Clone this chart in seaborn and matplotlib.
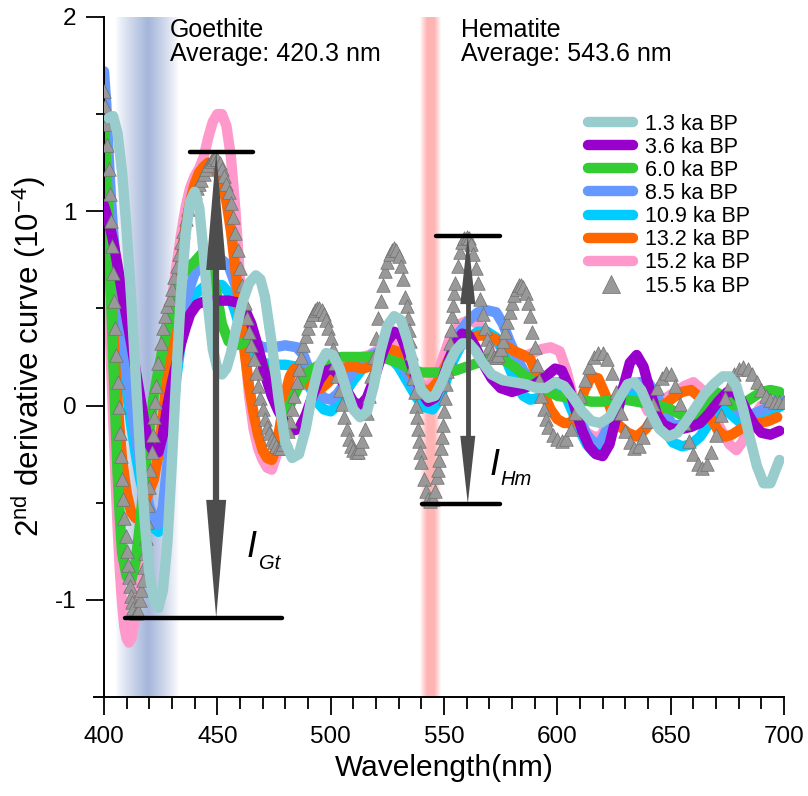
import numpy as np
import pandas as pd
import matplotlib
matplotlib.use("Agg")
import matplotlib.pyplot as plt
import seaborn as sns
from matplotlib.lines import Line2D
from matplotlib.patches import Polygon
from matplotlib.ticker import MultipleLocator, FixedLocator

sns.set_style("ticks")
plt.rcParams["font.family"] = ["Liberation Sans", "DejaVu Sans"]
plt.rcParams["mathtext.fontset"] = "custom"
plt.rcParams["mathtext.rm"] = "Liberation Sans"
plt.rcParams["mathtext.it"] = "Liberation Sans:italic"
for key in ("text.color", "axes.labelcolor", "xtick.color", "ytick.color",
            "xtick.labelcolor", "ytick.labelcolor", "axes.edgecolor"):
    plt.rcParams[key] = "black"

# ---- second-derivative spectra, (wavelength nm, value x1e-4) ----
s_1_3 = [(402,1.48),(404,1.49),(406,1.40),(408,1.20),(410,0.90),(412,0.55),(414,0.15),(416,-0.25),
         (418,-0.60),(420,-0.86),(422,-1.00),(424,-1.04),(426,-0.95),(428,-0.70),(430,-0.28),(432,0.18),
         (434,0.58),(436,0.88),(438,1.05),(440,1.10),(442,1.02),(444,0.78),(446,0.50),(448,0.29),
         (450,0.19),(452,0.16),(454,0.19),(456,0.27),(458,0.38),(461,0.53),(464,0.63),(467,0.67),
         (469,0.65),(471,0.56),(474,0.32),(477,0.04),(480,-0.19),(483,-0.27),(486,-0.25),(489,-0.12),
         (492,0.07),(495,0.21),(498,0.27),(501,0.26),(504,0.19),(507,0.08),(510,-0.02),(513,-0.06),
         (516,-0.03),(519,0.10),(522,0.28),(525,0.41),(528,0.46),(531,0.44),(534,0.33),(537,0.19),
         (540,0.08),(543,0.04),(546,0.05),(549,0.12),(552,0.21),(555,0.28),(558,0.32),(561,0.32),
         (564,0.28),(567,0.22),(571,0.16),(576,0.13),(581,0.12),(586,0.11),(591,0.09),(595,0.09),
         (599,0.12),(603,0.10),(607,0.04),(611,-0.03),(615,-0.08),(619,-0.09),(623,-0.06),(627,0.03),
         (631,0.11),(634,0.12),(637,0.08),(641,-0.03),(645,-0.12),(649,-0.16),(653,-0.14),(657,-0.08),
         (661,-0.01),(665,0.06),(669,0.11),(673,0.15),(676,0.15),(679,0.10),(682,-0.02),(685,-0.17),
         (688,-0.31),(691,-0.40),(694,-0.40),(696,-0.34),(698,-0.28)]

s_3_6 = [(400,1.03),(402,0.95),(404,0.85),(406,0.72),(408,0.58),(410,0.45),(412,0.32),(414,0.18),
         (416,0.04),(418,-0.10),(420,-0.20),(422,-0.24),(424,-0.24),(426,-0.15),(428,0.00),(430,0.12),
         (432,0.22),(434,0.32),(436,0.40),(438,0.47),(441,0.52),(445,0.54),(450,0.54),(455,0.54),
         (459,0.53),(462,0.50),(465,0.42),(468,0.30),(471,0.16),(474,0.05),(477,-0.03),(480,-0.09),
         (483,-0.13),(486,-0.12),(489,-0.05),(492,0.05),(495,0.13),(498,0.18),(501,0.19),(504,0.15),
         (507,0.08),(510,0.02),(513,0.00),(516,0.04),(519,0.13),(522,0.24),(525,0.33),(528,0.38),
         (531,0.36),(534,0.27),(537,0.16),(540,0.07),(543,0.02),(546,0.04),(549,0.12),(552,0.23),
         (555,0.32),(558,0.37),(561,0.36),(564,0.30),(567,0.22),(571,0.14),(575,0.09),(580,0.07),
         (585,0.09),(590,0.11),(595,0.15),(599,0.19),(602,0.18),(605,0.10),(608,-0.02),(611,-0.13),
         (614,-0.21),(617,-0.25),(620,-0.26),(623,-0.20),(626,-0.06),(629,0.09),(632,0.22),(635,0.26),
         (638,0.20),(641,0.07),(644,-0.05),(647,-0.10),(651,-0.12),(655,-0.12),(659,-0.11),(663,-0.09),
         (667,-0.04),(671,0.02),(675,0.07),(678,0.07),(681,0.03),(684,-0.04),(687,-0.10),(690,-0.14),
         (694,-0.15),(698,-0.13)]

s_6_0 = [(400,1.45),(401,1.25),(402,0.95),(403,0.60),(404,0.25),(405,-0.05),(406,-0.35),(407,-0.58),
         (408,-0.76),(410,-0.88),(412,-0.90),(414,-0.80),(416,-0.60),(418,-0.35),(420,-0.12),(422,0.05),
         (424,0.18),(426,0.30),(428,0.40),(431,0.55),(434,0.66),(437,0.71),(440,0.74),(443,0.78),
         (446,0.77),(449,0.62),(452,0.42),(455,0.33),(458,0.31),(461,0.32),(464,0.33),(467,0.30),
         (470,0.22),(473,0.10),(476,0.00),(479,-0.05),(482,0.00),(485,0.08),(488,0.14),(491,0.18),
         (495,0.21),(500,0.24),(505,0.25),(510,0.25),(515,0.25),(520,0.25),(525,0.24),(530,0.22),
         (535,0.19),(540,0.17),(545,0.17),(550,0.17),(555,0.18),(560,0.20),(565,0.22),(570,0.25),
         (573,0.25),(577,0.23),(581,0.20),(585,0.16),(590,0.12),(595,0.08),(600,0.05),(605,0.04),
         (610,0.03),(615,0.02),(620,0.02),(625,0.03),(630,0.03),(635,0.02),(640,0.01),(645,0.00),
         (650,-0.02),(655,-0.05),(659,-0.06),(663,-0.03),(667,0.04),(670,0.07),(674,0.04),(678,0.00),
         (682,0.01),(686,0.04),(690,0.07),(694,0.08),(698,0.07)]

s_8_5 = [(400,1.72),(401,1.55),(402,1.30),(403,1.08),(404,0.90),(406,0.62),(408,0.38),(410,0.18),
         (412,0.00),(414,-0.16),(416,-0.30),(418,-0.42),(420,-0.52),(422,-0.58),(424,-0.61),(426,-0.52),
         (428,-0.30),(430,-0.02),(432,0.22),(434,0.42),(437,0.58),(440,0.68),(444,0.73),(448,0.74),
         (452,0.75),(455,0.72),(458,0.62),(461,0.48),(464,0.38),(467,0.32),(470,0.30),(475,0.30),
         (480,0.31),(485,0.30),(488,0.26),(491,0.17),(494,0.08),(497,0.04),(500,0.03),(503,0.06),
         (506,0.11),(510,0.18),(514,0.23),(518,0.26),(522,0.28),(526,0.28),(530,0.24),(534,0.16),
         (538,0.08),(542,0.04),(545,0.03),(548,0.08),(551,0.18),(554,0.30),(557,0.38),(561,0.44),
         (565,0.48),(569,0.49),(573,0.48),(576,0.42),(579,0.33),(582,0.25),(585,0.18),(588,0.14),
         (592,0.12),(596,0.12),(600,0.12),(604,0.10),(607,0.02),(610,-0.08),(613,-0.15),(616,-0.19),
         (619,-0.19),(622,-0.12),(625,0.00),(628,0.07),(632,0.10),(636,0.12),(640,0.12),(644,0.05),
         (648,-0.05),(651,-0.10),(655,-0.10),(659,-0.09),(663,-0.07),(667,-0.02),(671,0.04),(674,0.05),
         (677,0.02),(681,-0.04),(685,-0.05),(689,-0.03),(693,-0.01),(696,0.02),(699,0.05)]

s_10_9 = [(400,1.50),(401,1.35),(402,1.12),(403,0.92),(404,0.76),(406,0.50),(408,0.28),(410,0.08),
          (412,-0.10),(414,-0.25),(416,-0.38),(418,-0.48),(420,-0.57),(422,-0.63),(424,-0.65),(426,-0.57),
          (428,-0.36),(430,-0.08),(432,0.15),(434,0.33),(437,0.48),(440,0.57),(444,0.61),(448,0.62),
          (452,0.62),(455,0.58),(458,0.48),(461,0.36),(464,0.28),(467,0.24),(470,0.22),(475,0.21),
          (480,0.21),(485,0.20),(488,0.16),(491,0.09),(494,0.02),(497,-0.02),(500,-0.03),(503,0.00),
          (506,0.06),(510,0.13),(514,0.19),(518,0.23),(522,0.25),(526,0.25),(530,0.20),(534,0.12),
          (538,0.04),(542,-0.01),(545,-0.02),(548,0.03),(551,0.13),(554,0.23),(557,0.30),(561,0.35),
          (565,0.38),(569,0.38),(573,0.35),(576,0.28),(579,0.19),(582,0.11),(585,0.05),(588,0.03),
          (592,0.04),(596,0.06),(600,0.07),(604,0.04),(607,-0.04),(610,-0.13),(613,-0.20),(616,-0.24),
          (619,-0.24),(622,-0.17),(625,-0.06),(628,0.02),(632,0.06),(636,0.07),(640,0.05),(644,-0.04),
          (648,-0.14),(651,-0.19),(655,-0.21),(659,-0.20),(663,-0.16),(667,-0.09),(671,-0.03),(674,-0.02),
          (677,-0.05),(681,-0.09),(685,-0.10),(689,-0.08),(693,-0.05),(696,-0.02),(699,0.00)]

s_13_2 = [(400,1.20),(401,1.00),(402,0.80),(403,0.60),(404,0.40),(405,0.20),(406,0.02),(407,-0.14),
          (408,-0.28),(410,-0.45),(412,-0.55),(414,-0.58),(416,-0.56),(418,-0.50),(420,-0.44),(422,-0.38),
          (424,-0.25),(426,-0.06),(428,0.16),(430,0.38),(432,0.58),(434,0.76),(436,0.92),(438,1.05),
          (440,1.14),(442,1.20),(444,1.23),(446,1.25),(448,1.24),(450,1.20),(452,1.14),(454,1.05),
          (456,0.90),(458,0.70),(460,0.48),(462,0.28),(464,0.10),(466,-0.04),(468,-0.15),(470,-0.23),
          (472,-0.27),(474,-0.28),(476,-0.22),(478,-0.08),(480,0.06),(482,0.15),(484,0.19),(487,0.17),
          (490,0.11),(493,0.08),(496,0.09),(499,0.12),(502,0.16),(505,0.19),(508,0.20),(511,0.20),
          (514,0.19),(517,0.20),(520,0.23),(523,0.27),(526,0.29),(529,0.28),(532,0.24),(535,0.18),
          (538,0.12),(541,0.08),(544,0.08),(547,0.12),(550,0.19),(553,0.26),(557,0.32),(561,0.35),
          (565,0.36),(569,0.36),(573,0.34),(577,0.31),(581,0.28),(585,0.26),(588,0.24),(591,0.16),
          (594,0.06),(597,-0.02),(600,-0.07),(603,-0.09),(606,-0.09),(609,-0.03),(612,0.08),(615,0.15),
          (618,0.14),(621,0.06),(624,-0.03),(627,-0.10),(631,-0.14),(635,-0.16),(639,-0.12),(643,-0.05),
          (647,0.00),(651,0.04),(655,0.07),(659,0.08),(663,0.04),(667,-0.05),(671,-0.13),(674,-0.16),
          (677,-0.15),(681,-0.12),(685,-0.10),(689,-0.09),(693,-0.08),(697,-0.06)]

s_15_2 = [(400,1.10),(401,0.85),(402,0.55),(403,0.25),(404,-0.05),(405,-0.35),(406,-0.62),(407,-0.85),
          (408,-1.02),(409,-1.14),(410,-1.20),(411,-1.22),(412,-1.20),(413,-1.14),(414,-1.05),(416,-0.85),
          (418,-0.62),(420,-0.42),(422,-0.22),(424,-0.02),(426,0.18),(428,0.38),(430,0.55),(432,0.72),
          (434,0.88),(436,1.02),(438,1.12),(440,1.18),(442,1.22),(444,1.28),(446,1.38),(448,1.46),
          (450,1.50),(452,1.50),(454,1.44),(456,1.28),(458,1.00),(460,0.65),(462,0.32),(464,0.05),
          (466,-0.12),(468,-0.22),(470,-0.28),(472,-0.32),(474,-0.33),(476,-0.26),(478,-0.12),(480,0.00),
          (482,0.08),(484,0.12),(487,0.12),(490,0.10),(493,0.10),(496,0.13),(499,0.17),(502,0.20),
          (505,0.22),(508,0.23),(511,0.24),(514,0.25),(517,0.26),(520,0.28),(523,0.31),(526,0.33),
          (529,0.32),(532,0.27),(535,0.20),(538,0.14),(541,0.10),(544,0.10),(547,0.16),(550,0.26),
          (553,0.36),(557,0.42),(561,0.44),(565,0.42),(569,0.37),(573,0.32),(577,0.28),(581,0.25),
          (585,0.25),(589,0.27),(593,0.29),(597,0.30),(601,0.28),(604,0.18),(607,0.04),(610,-0.08),
          (613,-0.14),(616,-0.16),(619,-0.16),(622,-0.10),(625,0.00),(628,0.08),(632,0.10),(636,0.06),
          (640,-0.03),(644,-0.02),(648,0.04),(652,0.07),(656,0.10),(660,0.12),(664,0.08),(668,-0.02),
          (672,-0.12),(676,-0.20),(679,-0.23),(682,-0.18),(686,-0.07),(690,0.00),(694,0.02),(698,0.02)]

s_15_5 = [(400,1.62),(400.5,1.54),(401,1.45),(401.5,1.34),(402,1.22),(402.5,1.09),(403,0.95),(403.5,0.82),
          (404,0.68),(404.5,0.54),(405,0.40),(405.5,0.26),(406,0.12),(406.5,-0.01),(407,-0.14),(407.5,-0.26),
          (408,-0.38),(408.5,-0.48),(409,-0.58),(409.5,-0.67),(410,-0.75),(410.5,-0.82),(411,-0.88),
          (411.5,-0.93),(412,-0.98),(412.5,-1.01),(413,-1.04),(414,-1.07),(415,-1.06),(416,-1.00),
          (416.5,-0.95),(417,-0.90),(417.5,-0.83),(418,-0.76),(418.5,-0.68),(419,-0.60),(419.5,-0.51),
          (420,-0.42),(420.5,-0.33),(421,-0.24),(421.5,-0.15),(422,-0.06),(422.5,0.02),(423,0.10),
          (424,0.22),(425,0.32),(426,0.40),(427,0.46),(428,0.51),(429,0.55),(430,0.60),(431,0.66),
          (432,0.72),(433,0.78),(434,0.84),(435,0.90),(436,0.96),(437,1.01),(438,1.05),(439,1.08),
          (440,1.10),(441,1.12),(442,1.14),(443,1.16),(444,1.19),(445,1.22),(446,1.24),(447,1.26),
          (448,1.27),(449,1.28),(450,1.27),(451,1.25),(452,1.22),(453,1.18),(454,1.14),(455,1.10),
          (456,1.04),(457,0.97),(458,0.89),(459,0.80),(460,0.71),(461,0.62),(462,0.53),(463,0.45),
          (464,0.38),(465,0.31),(466,0.24),(467,0.17),(468,0.10),(469,0.04),(470,-0.02),(471,-0.07),
          (472,-0.11),(473,-0.14),(474,-0.17),(475,-0.19),(476,-0.21),(477,-0.22),(478,-0.22),
          (479,-0.20),(480,-0.17),(481,-0.13),(482,-0.08),(483,-0.02),(484,0.05),(485,0.12),(486,0.19),
          (487,0.25),(488,0.31),(489,0.36),(490,0.40),(491,0.44),(492,0.47),(493,0.49),(494,0.50),
          (495,0.50),(496,0.49),(497,0.47),(498,0.44),(499,0.40),(500,0.35),(501,0.29),(502,0.22),
          (503,0.15),(504,0.08),(505,0.01),(506,-0.06),(507,-0.12),(508,-0.17),(509,-0.21),(510,-0.23),
          (511,-0.24),(512,-0.24),(513,-0.22),(514,-0.18),(515,-0.12),(516,-0.04),(517,0.05),(518,0.15),
          (519,0.25),(520,0.35),(521,0.45),(522,0.54),(523,0.62),(524,0.69),(525,0.74),(526,0.78),
          (527,0.80),(528,0.81),(529,0.80),(530,0.77),(531,0.72),(532,0.65),(533,0.56),(533.5,0.51),
          (534,0.45),(534.5,0.39),(535,0.33),(535.5,0.27),(536,0.20),(536.5,0.14),(537,0.07),
          (537.5,0.00),(538,-0.06),(538.5,-0.12),(539,-0.18),(539.5,-0.24),(540,-0.29),(541,-0.38),
          (542,-0.44),(543,-0.48),(544,-0.49),(545,-0.48),(546,-0.44),(547,-0.37),(547.5,-0.33),
          (548,-0.28),(548.5,-0.22),(549,-0.16),(549.5,-0.10),(550,-0.03),(550.5,0.04),(551,0.11),
          (551.5,0.18),(552,0.25),(552.5,0.32),(553,0.39),(553.5,0.46),(554,0.52),(554.5,0.58),
          (555,0.63),(556,0.72),(557,0.79),(558,0.84),(559,0.86),(560,0.87),(561,0.86),(562,0.83),
          (563,0.78),(564,0.71),(565,0.63),(566,0.55),(567,0.47),(568,0.40),(569,0.34),(570,0.30),
          (571,0.27),(572,0.25),(573,0.25),(574,0.26),(575,0.29),(576,0.33),(577,0.38),(578,0.43),
          (579,0.48),(580,0.53),(581,0.57),(582,0.60),(583,0.62),(584,0.62),(585,0.61),(586,0.58),
          (587,0.53),(588,0.46),(589,0.38),(590,0.30),(591,0.21),(592,0.13),(593,0.05),(594,-0.02),
          (595,-0.07),(596,-0.11),(598,-0.15),(600,-0.17),(602,-0.18),(604,-0.17),(606,-0.12),
          (608,-0.04),(610,0.05),(612,0.13),(614,0.20),(616,0.25),(618,0.27),(620,0.27),(622,0.24),
          (624,0.17),(626,0.07),(628,-0.04),(630,-0.13),(632,-0.19),(634,-0.22),(636,-0.21),(638,-0.16),
          (640,-0.08),(642,0.01),(644,0.09),(646,0.14),(648,0.17),(650,0.16),(652,0.10),(654,0.01),
          (656,-0.09),(658,-0.18),(660,-0.25),(662,-0.30),(664,-0.32),(666,-0.30),(668,-0.24),
          (670,-0.15),(672,-0.05),(674,0.04),(676,0.11),(678,0.16),(680,0.19),(682,0.20),(684,0.19),
          (686,0.16),(688,0.12),(690,0.08),(692,0.05),(694,0.03),(696,0.02),(698,0.02),(700,0.02)]

labels = ["1.3 ka BP", "3.6 ka BP", "6.0 ka BP", "8.5 ka BP",
          "10.9 ka BP", "13.2 ka BP", "15.2 ka BP", "15.5 ka BP"]
line_series = [s_1_3, s_3_6, s_6_0, s_8_5, s_10_9, s_13_2, s_15_2]
line_colors = ["#99cccc", "#9900cc", "#33cc33", "#6699ff", "#00ccff", "#ff6600", "#ff99cc"]
line_z = [2.8, 2.6, 2.5, 2.3, 2.2, 2.4, 2.1]
tri_face, tri_edge = "#999999", "#6f6f6f"

# mineral band centres and intensity markers
goethite_avg, hematite_avg = 420.3, 543.6
gt_top, gt_bot = 1.305, -1.093
hm_top, hm_bot = 0.872, -0.506

# ---- figure ----
fig = plt.figure(figsize=(8.08, 7.96), dpi=100)
ax = fig.add_axes([0.1287, 0.1244, 0.8416, 0.8543])
XMIN, XMAX, YMIN, YMAX = 400, 700, -1.5, 2.0
nm_per_px = (XMAX - XMIN) / (0.8416 * 808)
val_per_px = (YMAX - YMIN) / (0.8543 * 796)


def gradient_band(lo, centre, hi, rgb, power, plateau=0.0):
    xs = np.linspace(lo, hi, 400)
    half = np.where(xs < centre, centre - lo, hi - centre)
    d = np.abs(xs - centre)
    prof = np.clip((half - d) / (half * (1 - plateau)), 0, 1) ** power
    col = np.array(rgb) / 255.0
    img = prof[None, :, None] * col[None, None, :] + (1 - prof[None, :, None])
    ax.imshow(img, extent=[lo, hi, YMIN, YMAX], aspect="auto", zorder=0.5,
              interpolation="bilinear", origin="lower")


gradient_band(405.0, goethite_avg - 0.8, 433.0, (165, 182, 218), 0.85)
gradient_band(539.3, hematite_avg + 0.5, 548.5, (255, 180, 180), 0.9, plateau=0.35)

frames = []
for lab, ser in zip(labels[:-1], line_series):
    frames.append(pd.DataFrame(ser, columns=["wl", "d2"]).assign(sample=lab))
df = pd.concat(frames, ignore_index=True)
tri = pd.DataFrame(s_15_5, columns=["wl", "d2"])

for lab, col, z in zip(labels[:-1], line_colors, line_z):
    sub = df[df["sample"] == lab]
    sns.lineplot(data=sub, x="wl", y="d2", ax=ax, color=col, linewidth=7.5,
                 sort=False, estimator=None, legend=False, zorder=z,
                 solid_capstyle="round", solid_joinstyle="round")

sns.scatterplot(data=tri, x="wl", y="d2", ax=ax, marker="^", s=95,
                color=tri_face, edgecolor=tri_edge, linewidth=0.5, zorder=2.7,
                legend=False)


def double_arrow(x, top, bot, head_px, half_w_px, shaft_pt):
    hl = head_px * val_per_px
    hw = half_w_px * nm_per_px
    col = "#4d4d4d"
    ax.plot([x, x], [top - hl * 0.9, bot + hl * 0.9], color=col, lw=shaft_pt,
            solid_capstyle="butt", zorder=3)
    ax.add_patch(Polygon([(x, top), (x - hw, top - hl), (x + hw, top - hl)],
                         closed=True, color=col, zorder=3, lw=0))
    ax.add_patch(Polygon([(x, bot), (x - hw, bot + hl), (x + hw, bot + hl)],
                         closed=True, color=col, zorder=3, lw=0))


double_arrow(449.5, gt_top, gt_bot, 118, 10, 4.5)
double_arrow(560.5, hm_top, hm_bot, 68, 7.5, 3.5)

bar_kw = dict(color="black", lw=3.2, solid_capstyle="round", zorder=3.5)
ax.plot([437.9, 465.7], [gt_top, gt_top], **bar_kw)
ax.plot([409.3, 478.5], [gt_bot, gt_bot], **bar_kw)
ax.plot([546.5, 574.7], [hm_top, hm_top], **bar_kw)
ax.plot([540.3, 574.7], [hm_bot, hm_bot], **bar_kw)

# intensity labels
ax.text(463.0, -0.78, "I", fontsize=26, style="italic", ha="left", va="baseline", zorder=4)
ax.text(468.6, -0.84, "Gt", fontsize=14.5, style="italic", ha="left", va="baseline", zorder=4)
ax.text(570.2, -0.357, "I", fontsize=26, style="italic", ha="left", va="baseline", zorder=4)
ax.text(575.0, -0.41, "Hm", fontsize=14.5, style="italic", ha="left", va="baseline", zorder=4)

ax.text(429.0, 1.995, f"Goethite\nAverage: {goethite_avg} nm", fontsize=18,
        ha="left", va="top", linespacing=1.0, zorder=4)
ax.text(557.5, 1.995, f"Hematite\nAverage: {hematite_avg} nm", fontsize=18,
        ha="left", va="top", linespacing=1.0, zorder=4)

# ---- axes styling ----
ax.set_xlim(XMIN, XMAX)
ax.set_ylim(YMIN, YMAX)
ax.set_xticks(range(400, 701, 50))
ax.xaxis.set_minor_locator(MultipleLocator(10))
ax.set_yticks([-1, 0, 1, 2])
ax.set_yticklabels(["-1", "0", "1", "2"])
ax.yaxis.set_minor_locator(FixedLocator([-0.5, 0.5, 1.5]))
ax.tick_params(which="major", direction="out", length=13, width=1.3,
               labelsize=17.5, color="black", labelcolor="black")
ax.tick_params(axis="x", which="major", pad=8)
ax.tick_params(axis="y", which="major", pad=7)
ax.tick_params(axis="x", which="minor", direction="out", length=8.5, width=1.3, color="black")
ax.tick_params(axis="y", which="minor", direction="out", length=6, width=1.3, color="black")
sns.despine(ax=ax)
for side in ("left", "bottom"):
    ax.spines[side].set_linewidth(1.4)
    ax.spines[side].set_color("black")
ax.spines["bottom"].set_bounds(395.5, 700)

ax.set_xlabel("Wavelength(nm)", fontsize=21.5, labelpad=4, color="black")
ax.set_ylabel(r"2$^{\mathrm{nd}}$ derivative curve (10$^{-4}$)", fontsize=22.5,
              labelpad=5, color="black")

handles = [Line2D([], [], color=c, lw=7.5, solid_capstyle="round") for c in line_colors]
handles.append(Line2D([], [], ls="none", marker="^", ms=13, mfc=tri_face, mec=tri_edge, mew=0.5))
leg = ax.legend(handles, labels, loc="upper left", bbox_to_anchor=(0.712, 0.858),
                frameon=False, fontsize=15.5, handlelength=2.1, handletextpad=0.55,
                labelspacing=0.1, borderpad=0, borderaxespad=0)
for t in leg.get_texts():
    t.set_color("black")

fig.savefig("out.png", dpi=100)
